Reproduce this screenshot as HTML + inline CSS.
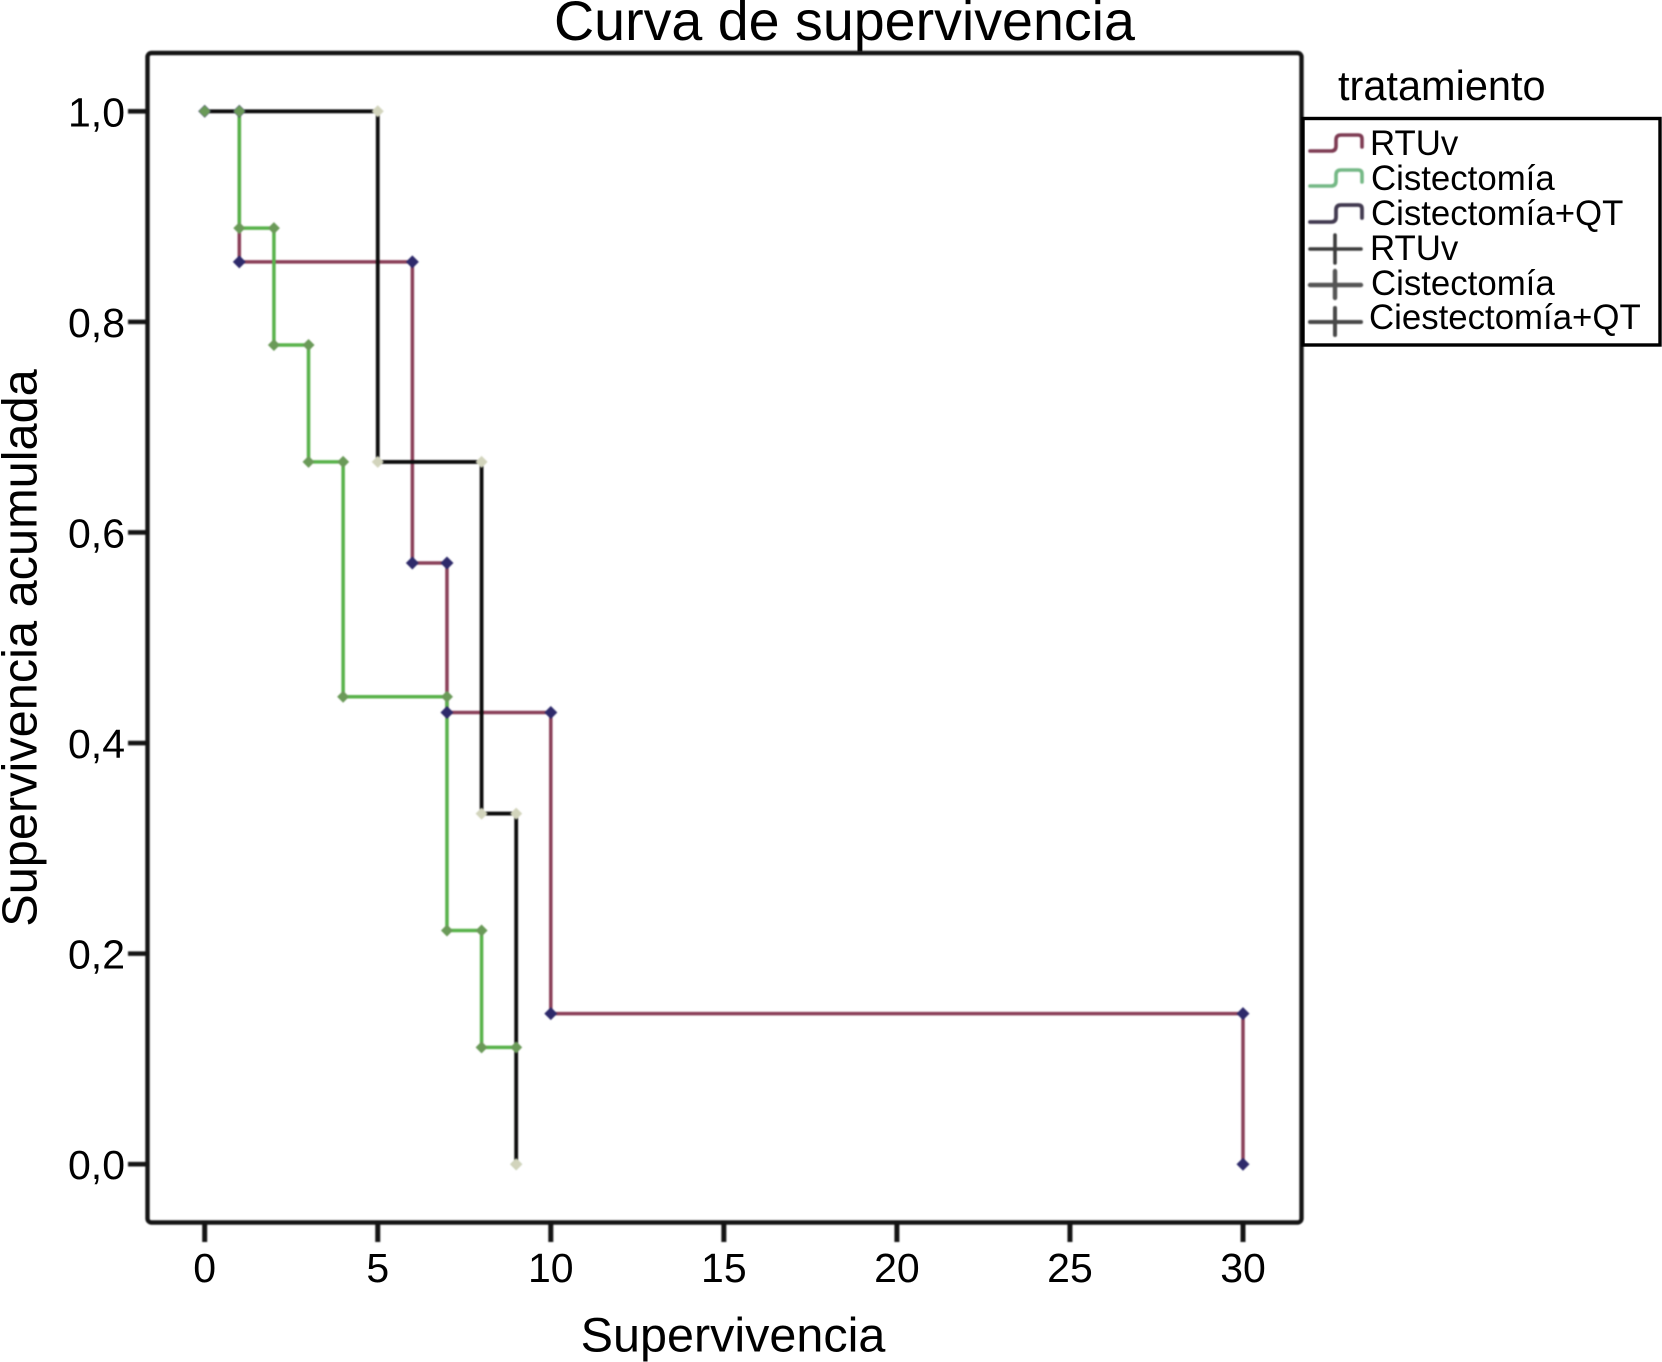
<!DOCTYPE html>
<html lang="es">
<head>
<meta charset="utf-8">
<title>Curva de supervivencia</title>
<style>
  html, body { margin: 0; padding: 0; background: #fff; }
  body { width: 1662px; height: 1362px; overflow: hidden; }
  svg { display: block; font-family: "Liberation Sans", sans-serif; fill: #000; }
  .soft { filter: blur(0.7px); }
</style>
</head>
<body>
<svg id="chart" width="1662" height="1362" viewBox="0 0 1662 1362" xmlns="http://www.w3.org/2000/svg">
  <rect x="0" y="0" width="1662" height="1362" fill="#fff"/>
  <text x="844.5" y="40" font-size="55.6" text-anchor="middle">Curva de supervivencia</text>
  <text transform="translate(36.5 648) rotate(-90)" font-size="48.7" text-anchor="middle">Supervivencia acumulada</text>
  <text x="733" y="1351.5" font-size="48.5" text-anchor="middle">Supervivencia</text>

  <g id="ticks" class="soft"></g>
  <g id="tick-labels"></g>
  <g id="marks" class="soft"></g>
  <rect class="soft" x="147.5" y="53" width="1154" height="1169.5" rx="4" ry="4" fill="none" stroke="#141414" stroke-width="4.4"/>

  <text x="1338" y="100" font-size="41.5">tratamiento</text>
  <g>
    <rect x="1303" y="118.5" width="357" height="226.5" fill="#fff" stroke="#000" stroke-width="3.4"/>
    <g class="soft" fill="none" stroke-linecap="round">
      <path d="M1310 151H1331Q1336 151 1336 146V140Q1336 135 1341 135H1358Q1362 135 1362 139V147" stroke="#7d3a52" stroke-width="3.6"/>
      <path d="M1310 186H1331Q1336 186 1336 181V175Q1336 170 1341 170H1358Q1362 170 1362 174V182" stroke="#74b885" stroke-width="3.6"/>
      <path d="M1310 222H1331Q1336 222 1336 217V210Q1336 205 1341 205H1358Q1362 205 1362 209V218" stroke="#423a50" stroke-width="3.8"/>
      <path d="M1310 249H1361M1335 235V263" stroke="#3c3c3c" stroke-width="3.6"/>
      <path d="M1310 285H1361M1335 271V298" stroke="#555" stroke-width="4.4"/>
      <path d="M1310 322H1361M1335 308V335" stroke="#484848" stroke-width="4"/>
    </g>
    <text x="1370" y="155" font-size="34.8">RTUv</text>
    <text x="1371" y="190" font-size="34.8">Cistectomía</text>
    <text x="1371" y="225" font-size="34.8">Cistectomía+QT</text>
    <text x="1370" y="260" font-size="34.8">RTUv</text>
    <text x="1371" y="295" font-size="34.8">Cistectomía</text>
    <text x="1369" y="329" font-size="34.8">Ciestectomía+QT</text>
  </g>
</svg>
<script>
// Chart data
var xTicks = [0, 5, 10, 15, 20, 25, 30];
var yTicks = [0, 0.2, 0.4, 0.6, 0.8, 1];
var yTickLabels = ["0,0", "0,2", "0,4", "0,6", "0,8", "1,0"];

var rtuvTimes = [0, 1, 6, 7, 10, 30];
var rtuvSurvival = [1, 0.857, 0.571, 0.429, 0.143, 0];
var cistTimes = [0, 1, 2, 3, 4, 7, 8, 9];
var cistSurvival = [1, 0.889, 0.778, 0.667, 0.444, 0.222, 0.111, 0];
var cistQtTimes = [0, 5, 8, 9];
var cistQtSurvival = [1, 0.667, 0.333, 0];

// Axis functions
function xScale(t) { return 204.7 + (t / 30) * (1243 - 204.7); }
function yScale(s) { return 1164.2 - s * (1164.2 - 111.3); }

var NS = "http://www.w3.org/2000/svg";
function make(tag, parent) {
  var el = document.createElementNS(NS, tag);
  parent.appendChild(el);
  return el;
}

var ticksG = document.getElementById("ticks");
var labelsG = document.getElementById("tick-labels");
var marksG = document.getElementById("marks");

xTicks.forEach(function (v) {
  var line = make("line", ticksG);
  
  
  line.setAttribute("x1", xScale(v));
  line.setAttribute("x2", xScale(v));
  line.setAttribute("y1", 1222);
  line.setAttribute("y2", 1242);
  line.setAttribute("stroke", "#141414");
  line.setAttribute("stroke-width", 5);
  var label = make("text", labelsG);
  
  
  label.setAttribute("x", xScale(v));
  label.setAttribute("y", 1282);
  label.setAttribute("font-size", 41);
  label.setAttribute("text-anchor", "middle");
  label.textContent = String(v);
});

yTicks.forEach(function (v, i) {
  var line = make("line", ticksG);
  
  
  line.setAttribute("x1", 128);
  line.setAttribute("x2", 148);
  line.setAttribute("y1", yScale(v));
  line.setAttribute("y2", yScale(v));
  line.setAttribute("stroke", "#141414");
  line.setAttribute("stroke-width", 4.6);
  var label = make("text", labelsG);
  
  
  label.setAttribute("x", 125);
  label.setAttribute("y", yScale(v) + 15);
  label.setAttribute("font-size", 41);
  label.setAttribute("text-anchor", "end");
  label.textContent = yTickLabels[i];
});

function drawCurve(times, values, color, width, name) {
  var d = "M" + xScale(times[0]) + " " + yScale(values[0]);
  for (var i = 1; i < times.length; i++) {
    d += "H" + xScale(times[i]) + "V" + yScale(values[i]);
  }
  var path = make("path", marksG);
  
  
  path.setAttribute("d", d);
  path.setAttribute("fill", "none");
  path.setAttribute("stroke", color);
  path.setAttribute("stroke-width", width);
}

function drawMarker(t, s, color, size) {
  var cx = xScale(t), cy = yScale(s);
  var m = make("polygon", marksG);
  
  
  m.setAttribute("points", cx + "," + (cy - size) + " " + (cx + size) + "," + cy + " " + cx + "," + (cy + size) + " " + (cx - size) + "," + cy);
  m.setAttribute("fill", color);
}

function drawMarkers(times, values, color, size, skipStart) {
  if (!skipStart) drawMarker(times[0], values[0], color, size);
  for (var i = 1; i < times.length; i++) {
    drawMarker(times[i], values[i - 1], color, size);
    drawMarker(times[i], values[i], color, size);
  }
}

drawCurve(rtuvTimes, rtuvSurvival, "#8a3f58", 3.5, "curve-rtuv");
drawCurve(cistTimes, cistSurvival, "#58b24a", 3.5, "curve-cistectomia");
drawCurve(cistQtTimes, cistQtSurvival, "#0c0c0c", 3.8, "curve-cistectomia-qt");
drawMarkers(rtuvTimes, rtuvSurvival, "#2e2a6b", 6.5, false);
drawMarkers(cistTimes, cistSurvival, "#6a9a58", 6, false);
drawMarkers(cistQtTimes, cistQtSurvival, "#d2d4bc", 6, true);
</script>
</body>
</html>
